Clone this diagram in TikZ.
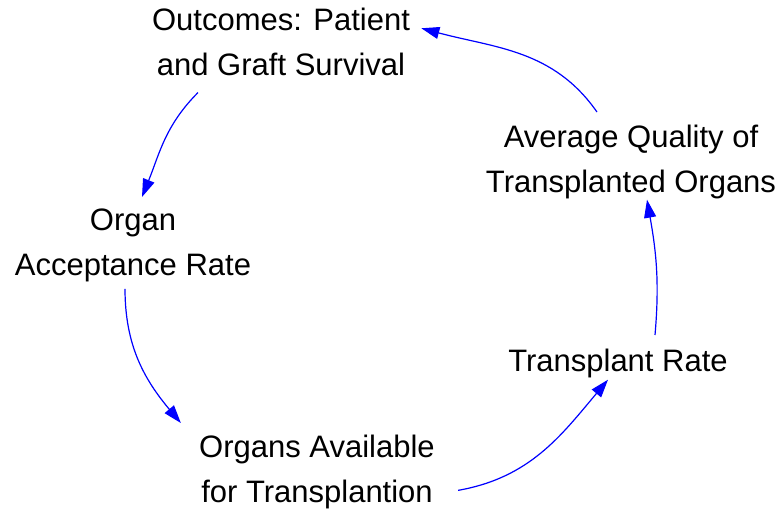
\documentclass[tikz,border=0pt]{standalone}
\usepackage{fontspec}
\setmainfont{Liberation Sans}
\usetikzlibrary{calc,positioning,arrows.meta}

\begin{document}
\begin{tikzpicture}[x=0.5pt,y=0.5pt,
    factor/.style={inner sep=0pt, anchor=north, align=center, font=\fontsize{15.5}{22.5}\selectfont},
    loopedge/.style={draw=blue, line width=0.6pt, -{Triangle[length=9pt,width=6pt]}}]
     \useasboundingbox (0,0) rectangle (777,509);

         \node[factor] (outcomes) at (281,501){Outcomes: Patient\\and Graft Survival};
         \node[factor] (accept) at (133,301){Organ\\Acceptance Rate};
         \node[factor] (avail) at (317,74){Organs Available\\for Transplantion};
         \node[factor] (rate) at (618,160){Transplant Rate};
         \node[factor] (quality) at (631,384){Average Quality of\\Transplanted Organs};

         \draw[loopedge] ([shift={(-83,-16)}]outcomes.south) to[out=225,in=68] ([shift={(9,11)}]accept.north);
         \draw[loopedge] ([shift={(-8,-7)}]accept.south) to[out=270,in=130] ([shift={(-18,12)}]avail.north west);
         \draw[loopedge] ([shift={(23,-18)}]avail.east) to[out=10,in=230] ([shift={(-10,-1)}]rate.south);
         \draw[loopedge] ([shift={(37,14)}]rate.north) to[out=85,in=280] ([shift={(16,0)}]quality.south);
         \draw[loopedge] ([shift={(-34,13)}]quality.north) to[out=125,in=345] ([shift={(11,14)}]outcomes.east);

     \end{tikzpicture}
\end{document}
